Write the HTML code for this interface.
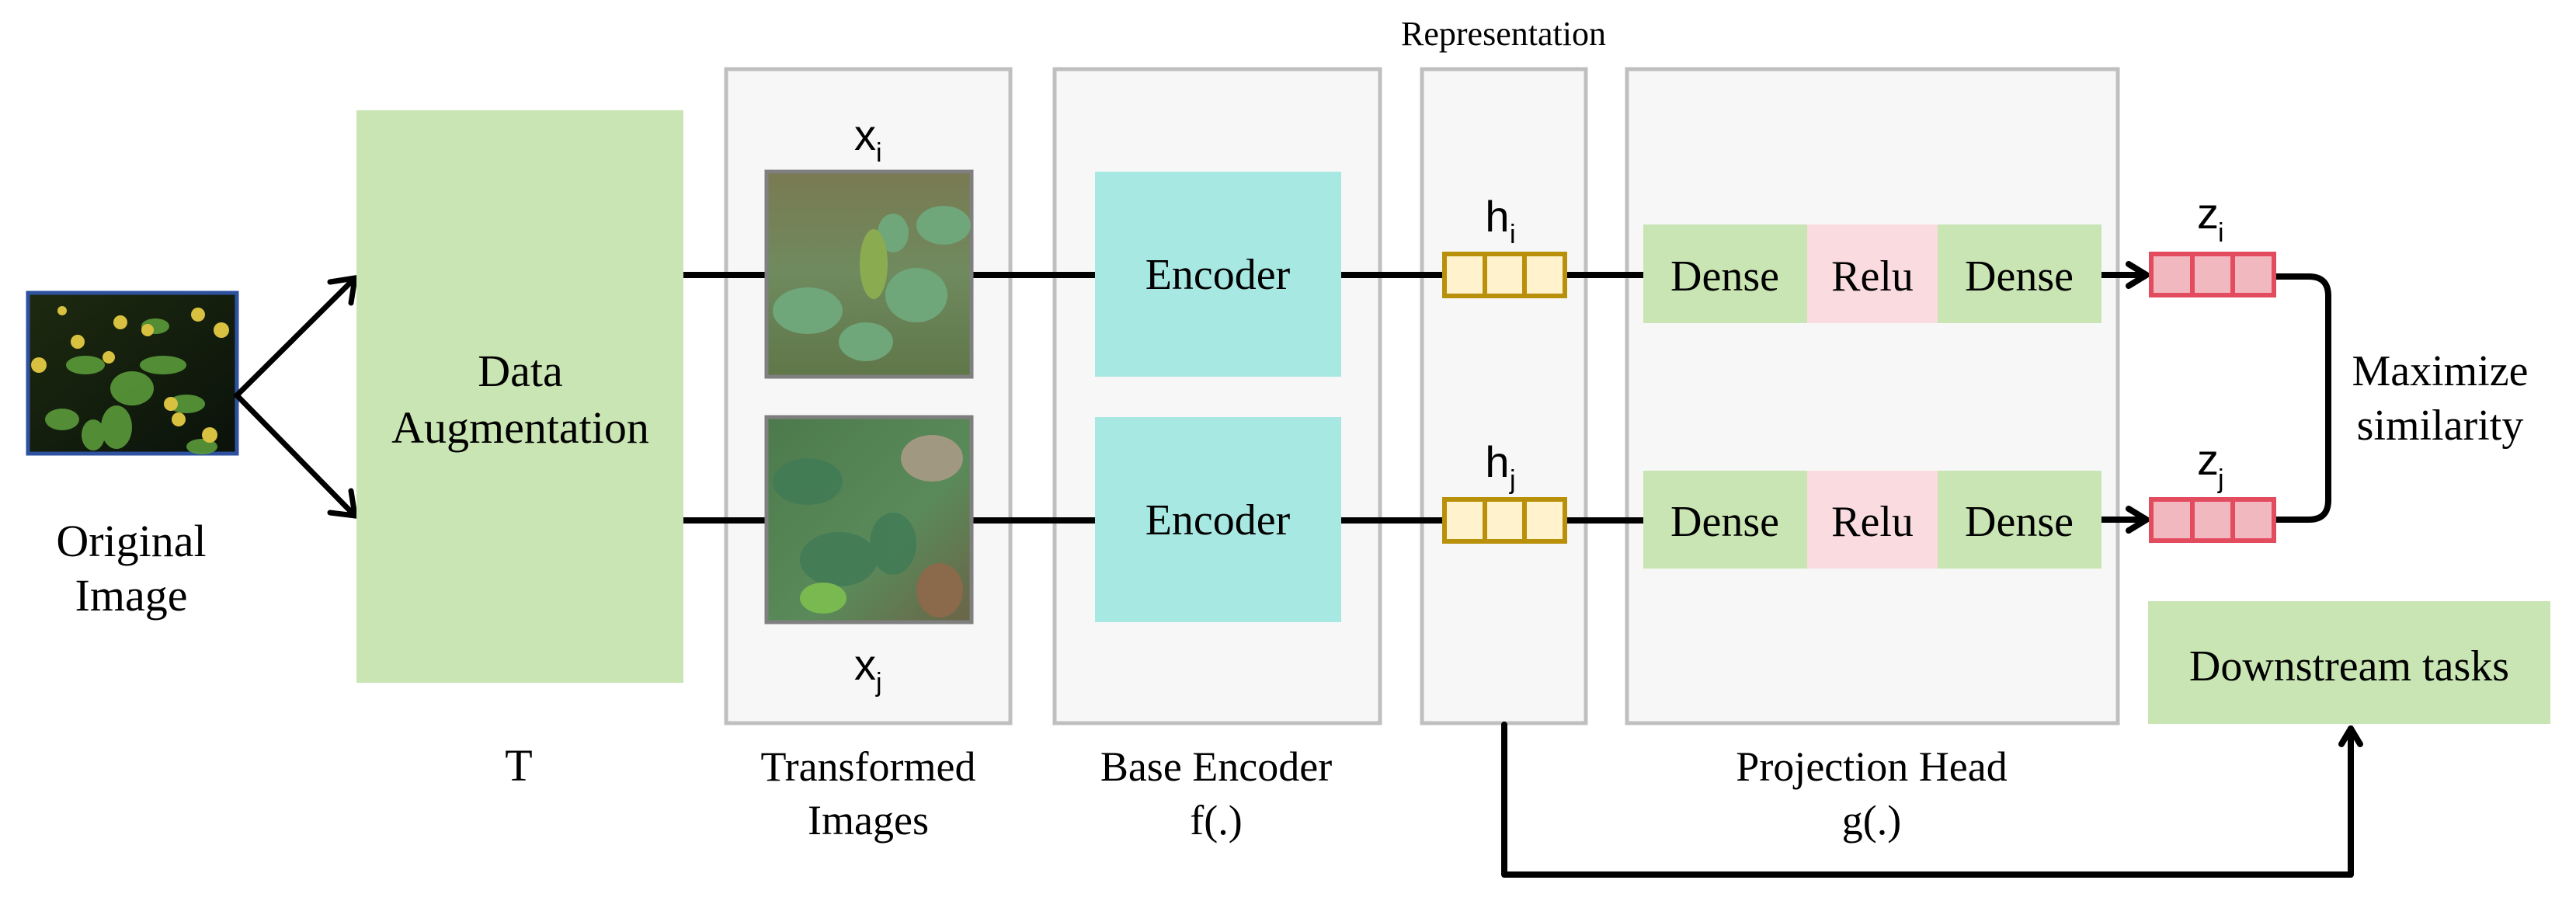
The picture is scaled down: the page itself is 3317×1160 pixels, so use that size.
<!DOCTYPE html>
<html><head><meta charset="utf-8"><style>
html,body{margin:0;padding:0;background:#fff;}
svg{display:block;}
.s{font-family:"Liberation Serif",serif;fill:#000;}
.a{font-family:"Liberation Sans",sans-serif;fill:#000;}
</style></head><body>
<svg width="3317" height="1160" viewBox="0 0 3317 1160" xmlns="http://www.w3.org/2000/svg">
<defs>
<linearGradient id="g0" x1="0" y1="0" x2="1" y2="1"><stop offset="0" stop-color="#1d2a10"/><stop offset="1" stop-color="#0a120a"/></linearGradient>
<linearGradient id="g1" x1="0" y1="0" x2="0" y2="1"><stop offset="0" stop-color="#7a7a52"/><stop offset="0.5" stop-color="#6f8a5e"/><stop offset="1" stop-color="#5f7648"/></linearGradient>
<linearGradient id="g2" x1="0" y1="0" x2="1" y2="1"><stop offset="0" stop-color="#4c7a4c"/><stop offset="0.6" stop-color="#5a8a5a"/><stop offset="1" stop-color="#6b6448"/></linearGradient>
</defs>

<rect x="36" y="377" width="269" height="207" fill="url(#g0)" stroke="#2f52a0" stroke-width="5"/>
<g fill="#5a9a3a" opacity="0.9">
<ellipse cx="170" cy="500" rx="28" ry="22"/><ellipse cx="110" cy="470" rx="25" ry="12"/><ellipse cx="210" cy="470" rx="30" ry="12"/>
<ellipse cx="150" cy="550" rx="20" ry="28"/><ellipse cx="240" cy="520" rx="24" ry="12"/><ellipse cx="80" cy="540" rx="22" ry="14"/>
<ellipse cx="260" cy="575" rx="20" ry="10"/><ellipse cx="200" cy="420" rx="18" ry="10"/><ellipse cx="120" cy="560" rx="15" ry="20"/>
</g>
<g fill="#d8c040">
<circle cx="155" cy="415" r="9"/><circle cx="100" cy="440" r="9"/><circle cx="190" cy="425" r="8"/><circle cx="255" cy="405" r="9"/><circle cx="285" cy="425" r="10"/>
<circle cx="50" cy="470" r="10"/><circle cx="220" cy="520" r="9"/><circle cx="230" cy="540" r="9"/><circle cx="270" cy="560" r="10"/><circle cx="140" cy="460" r="8"/><circle cx="80" cy="400" r="6"/>
</g>
<text class="s" x="169" y="716" font-size="58" text-anchor="middle">Original</text>
<text class="s" x="169" y="786" font-size="58" text-anchor="middle">Image</text>

<g stroke="#000" stroke-width="7" fill="none" stroke-linecap="round">
<line x1="305" y1="509" x2="457" y2="358"/>
<polyline points="425,363 457,358 452,390"/>
<line x1="305" y1="509" x2="457" y2="664"/>
<polyline points="425,660 457,664 452,632"/>
</g>

<rect x="459" y="142" width="421" height="737" fill="#c9e5b3"/>
<text class="s" x="670" y="497" font-size="58" text-anchor="middle">Data</text>
<text class="s" x="670" y="570" font-size="58" text-anchor="middle">Augmentation</text>
<text class="s" x="668" y="1005" font-size="58" text-anchor="middle">T</text>

<g fill="#f7f7f7" stroke="#bfbfbf" stroke-width="5">
<rect x="935" y="89" width="366" height="842"/>
<rect x="1358" y="89" width="419" height="842"/>
<rect x="1831" y="89" width="211" height="842"/>
<rect x="2095" y="89" width="632" height="842"/>
</g>

<g stroke="#000" stroke-width="8">
<line x1="880" y1="354" x2="1410" y2="354"/>
<line x1="880" y1="670" x2="1410" y2="670"/>
<line x1="1726" y1="354" x2="1858" y2="354"/>
<line x1="1726" y1="670" x2="1858" y2="670"/>
<line x1="2016" y1="354" x2="2117" y2="354"/>
<line x1="2016" y1="670" x2="2117" y2="670"/>
<line x1="2706" y1="354" x2="2762" y2="354"/>
<line x1="2706" y1="669" x2="2762" y2="669"/>
</g>
<g stroke="#000" stroke-width="8" fill="none" stroke-linecap="round" stroke-linejoin="round">
<polyline points="2741,340 2764,354 2741,368"/>
<polyline points="2741,655 2764,669 2741,683"/>
<path d="M2931,356 H2973 Q2998,356 2998,381 V644 Q2998,669 2973,669 H2931"/>
<polyline points="1937,933 1937,1126 3027,1126 3027,938"/>
<polyline points="3015,958 3027,938 3039,958"/>
</g>

<rect x="987" y="221" width="264" height="264" fill="url(#g1)" stroke="#7f7f7f" stroke-width="5"/>
<g fill="#6fa67a">
<ellipse cx="1040" cy="400" rx="45" ry="30"/><ellipse cx="1180" cy="380" rx="40" ry="35"/><ellipse cx="1115" cy="440" rx="35" ry="25"/>
<ellipse cx="1215" cy="290" rx="35" ry="25"/><ellipse cx="1150" cy="300" rx="20" ry="25"/>
</g>
<ellipse cx="1125" cy="340" rx="18" ry="45" fill="#8aab50"/>
<rect x="987" y="537" width="264" height="264" fill="url(#g2)" stroke="#7f7f7f" stroke-width="5"/>
<g fill="#3f7a55" opacity="0.8">
<ellipse cx="1040" cy="620" rx="45" ry="30"/><ellipse cx="1080" cy="720" rx="50" ry="35"/><ellipse cx="1150" cy="700" rx="30" ry="40"/>
</g>
<ellipse cx="1200" cy="590" rx="40" ry="30" fill="#a09880"/>
<ellipse cx="1210" cy="760" rx="30" ry="35" fill="#8a6a4a"/>
<ellipse cx="1060" cy="770" rx="30" ry="20" fill="#7ab850"/>

<text class="a" x="1114" y="193" font-size="56" text-anchor="middle">x</text>
<text class="a" x="1128" y="208" font-size="34">i</text>
<text class="a" x="1114" y="875" font-size="56" text-anchor="middle">x</text>
<text class="a" x="1128" y="890" font-size="34">j</text>
<text class="s" x="1118" y="1005" font-size="54" text-anchor="middle">Transformed</text>
<text class="s" x="1118" y="1074" font-size="54" text-anchor="middle">Images</text>

<rect x="1410" y="221" width="317" height="264" fill="#a8e8e2"/>
<text class="s" x="1568" y="372" font-size="56" text-anchor="middle">Encoder</text>
<rect x="1410" y="537" width="317" height="264" fill="#a8e8e2"/>
<text class="s" x="1568" y="688" font-size="56" text-anchor="middle">Encoder</text>
<text class="s" x="1566" y="1005" font-size="54" text-anchor="middle">Base Encoder</text>
<text class="s" x="1566" y="1074" font-size="54" text-anchor="middle">f(.)</text>

<text class="s" x="1936" y="58" font-size="44" text-anchor="middle">Representation</text>
<g fill="#fff2cc" stroke="#b8900a" stroke-width="6">
<rect x="1860" y="327" width="155" height="54"/><line x1="1912" y1="327" x2="1912" y2="381"/><line x1="1963" y1="327" x2="1963" y2="381"/>
<rect x="1860" y="643" width="155" height="54"/><line x1="1912" y1="643" x2="1912" y2="697"/><line x1="1963" y1="643" x2="1963" y2="697"/>
</g>
<text class="a" x="1928" y="298" font-size="56" text-anchor="middle">h</text>
<text class="a" x="1944" y="313" font-size="34">i</text>
<text class="a" x="1928" y="614" font-size="56" text-anchor="middle">h</text>
<text class="a" x="1944" y="629" font-size="34">j</text>

<rect x="2116" y="289" width="211" height="127" fill="#c9e5b3"/>
<rect x="2327" y="289" width="168" height="127" fill="#f9dbe0"/>
<rect x="2495" y="289" width="211" height="127" fill="#c9e5b3"/>
<rect x="2116" y="606" width="211" height="126" fill="#c9e5b3"/>
<rect x="2327" y="606" width="168" height="126" fill="#f9dbe0"/>
<rect x="2495" y="606" width="211" height="126" fill="#c9e5b3"/>
<text class="s" x="2221" y="374" font-size="56" text-anchor="middle">Dense</text>
<text class="s" x="2411" y="374" font-size="56" text-anchor="middle">Relu</text>
<text class="s" x="2600" y="374" font-size="56" text-anchor="middle">Dense</text>
<text class="s" x="2221" y="690" font-size="56" text-anchor="middle">Dense</text>
<text class="s" x="2411" y="690" font-size="56" text-anchor="middle">Relu</text>
<text class="s" x="2600" y="690" font-size="56" text-anchor="middle">Dense</text>
<text class="s" x="2410" y="1005" font-size="54" text-anchor="middle">Projection Head</text>
<text class="s" x="2410" y="1074" font-size="54" text-anchor="middle">g(.)</text>

<g fill="#f2b8c0" stroke="#e34b5e" stroke-width="6">
<rect x="2770" y="327" width="158" height="53"/><line x1="2823" y1="327" x2="2823" y2="380"/><line x1="2875" y1="327" x2="2875" y2="380"/>
<rect x="2770" y="643" width="158" height="53"/><line x1="2823" y1="643" x2="2823" y2="696"/><line x1="2875" y1="643" x2="2875" y2="696"/>
</g>
<text class="a" x="2843" y="294" font-size="56" text-anchor="middle">z</text>
<text class="a" x="2856" y="311" font-size="34">i</text>
<text class="a" x="2843" y="611" font-size="56" text-anchor="middle">z</text>
<text class="a" x="2856" y="628" font-size="34">j</text>
<text class="s" x="3142" y="496" font-size="56" text-anchor="middle">Maximize</text>
<text class="s" x="3142" y="566" font-size="56" text-anchor="middle">similarity</text>

<rect x="2766" y="774" width="518" height="158" fill="#c9e5b3"/>
<text class="s" x="3025" y="876" font-size="56" text-anchor="middle">Downstream tasks</text>
</svg>
</body></html>
